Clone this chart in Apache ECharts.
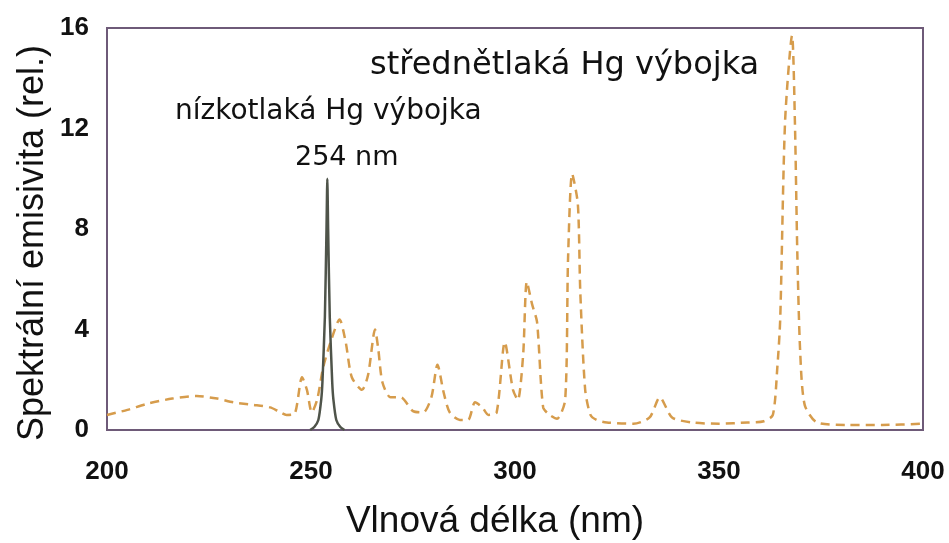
<!DOCTYPE html>
<html>
<head>
<meta charset="utf-8">
<script src="https://cdn.jsdelivr.net/npm/echarts@6/dist/echarts.min.js"></script>
<style>
html,body{margin:0;padding:0;background:#fff;}
#chart{width:949px;height:543px;}
</style>
</head>
<body>
<div id="chart"></div>
<script>
// Medium-pressure Hg lamp (dashed orange): [wavelength nm, relative emissivity]
const mediumWavelength = [200,205,210,216,222,227,231,236,240,242,244,246,247.8,249,250.2,251.5,253,255,257,258.5,260,262.5,264,265.7,266.5,267.5,269.5,272,275,277.5,279.5,281,282.5,284,286.5,288.5,290.2,292,293.5,295.5,297.5,299.5,300.7,302,302.9,304.2,305.4,306.9,308.5,310.3,312.3,313,314,315.4,316,317.2,318.5,320,322.5,329,333,335.5,338.5,343.5,350,357,361,363.2,364.3,365,366.2,367.9,368.6,369.2,369.9,371,374,381,390,400];
const mediumValue      = [0.6,0.8,1.05,1.25,1.35,1.25,1.1,1.0,0.9,0.75,0.6,0.65,2.1,1.6,0.7,1.2,2.5,3.6,4.4,3.5,2.1,1.6,2.2,4.0,3.2,1.9,1.3,1.3,0.75,0.7,1.3,2.6,1.5,0.7,0.4,0.4,1.1,0.9,0.6,0.7,3.5,1.6,1.2,3.0,5.9,5.0,4.3,0.9,0.6,0.45,1.2,6.8,10.2,9.0,5.5,1.6,0.6,0.4,0.3,0.25,0.5,1.3,0.5,0.3,0.25,0.3,0.35,0.6,2.5,4.4,12.3,15.7,12.3,7.0,3.1,1.0,0.3,0.2,0.2,0.25];
// Low-pressure Hg lamp (solid grey): 254 nm line
const lowWavelength = [249.8,250.8,251.8,252.5,252.8,253.4,253.8,254,254.2,254.6,255.2,255.5,256.2,257.2,258.2];
const lowValue      = [0,0.12,0.4,1.2,1.9,4.5,8,10,8,4.5,1.9,1.2,0.4,0.12,0];
// Axis ticks
const xTicks = [200,250,300,350,400];
const yTicks = [0,4,8,12,16];
// Texts
const xAxisTitle = 'Vlnová délka (nm)';
const yAxisTitle = 'Spektrální emisivita (rel.)';
const annMedium = 'střednětlaká Hg výbojka';
const annLow = 'nízkotlaká Hg výbojka';
const annLine = '254 nm';

const zip = (a,b)=>a.map((v,i)=>[v,b[i]]);

const chart = echarts.init(document.getElementById('chart'));
chart.setOption({
  animation:false,
  grid:{left:107,right:26,top:28,bottom:113,show:true,borderColor:'#6e5a78',borderWidth:2,backgroundColor:'#fff'},
  xAxis:{
    type:'value',min:xTicks[0],max:xTicks[xTicks.length-1],interval:50,
    axisLine:{show:false},axisTick:{show:false},splitLine:{show:false},
    axisLabel:{fontFamily:'Liberation Sans',fontWeight:'bold',fontSize:26,color:'#111',margin:29}
  },
  yAxis:{
    type:'value',min:yTicks[0],max:yTicks[yTicks.length-1],interval:4,
    axisLine:{show:false},axisTick:{show:false},splitLine:{show:false},
    axisLabel:{fontFamily:'Liberation Sans',fontWeight:'bold',fontSize:26,color:'#111',margin:18}
  },
  series:[
    {type:'line',data:zip(mediumWavelength,mediumValue),showSymbol:false,smooth:0.25,
     lineStyle:{color:'#d69c4c',width:2.5,type:[9,6]}},
    {type:'line',data:zip(lowWavelength,lowValue),showSymbol:false,smooth:0.2,
     lineStyle:{color:'#4f544a',width:2.5}}
  ],
  graphic:[
    {type:'text',x:33,y:243,rotation:Math.PI/2,style:{text:yAxisTitle,font:'36px "Liberation Sans"',fill:'#111',align:'center',verticalAlign:'middle'}},
    {type:'text',x:495,y:522,style:{text:xAxisTitle,font:'37px "Liberation Sans"',fill:'#111',align:'center',verticalAlign:'middle'}},
    {type:'text',left:370,top:50,style:{text:annMedium,font:'32px "DejaVu Sans"',fill:'#111'}},
    {type:'text',left:175,top:98,style:{text:annLow,font:'28px "DejaVu Sans"',fill:'#111'}},
    {type:'text',left:295,top:144,style:{text:annLine,font:'27px "DejaVu Sans"',fill:'#111'}}
  ]
});
</script>
</body>
</html>
